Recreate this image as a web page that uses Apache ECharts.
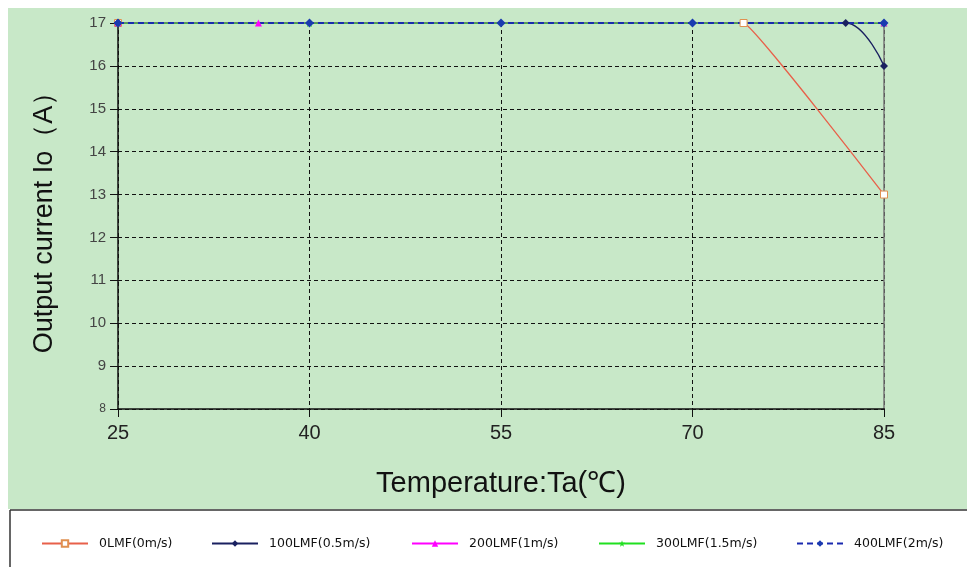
<!DOCTYPE html>
<html><head><meta charset="utf-8">
<script src="https://cdn.jsdelivr.net/npm/echarts@6/dist/echarts.min.js"></script>
<style>html,body{margin:0;padding:0;background:#fff}#c{width:967px;height:567px}</style>
</head><body><div id="c"></div>
<script>
const seriesNames = ['0LMF(0m/s)', '100LMF(0.5m/s)', '200LMF(1m/s)', '300LMF(1.5m/s)', '400LMF(2m/s)'];
const xTicks = [25, 40, 55, 70, 85];
const yTicks = [8, 9, 10, 11, 12, 13, 14, 15, 16, 17];
const lmf0 = [[25, 17], [74, 17], [85, 13]];
const lmf100 = [[25, 17], [82, 17], [85, 16]];
const lmf200 = [[25, 17], [36, 17], [85, 17]];
const lmf300 = [[25, 17], [40, 17], [85, 17]];
const lmf400 = [[25, 17], [40, 17], [55, 17], [70, 17], [85, 17]];

const starPath = 'path://M0,-10 L2.4,-3.2 9.5,-3.1 3.8,1.2 5.9,8.1 0,4 -5.9,8.1 -3.8,1.2 -9.5,-3.1 -2.4,-3.2 Z';
const chart = echarts.init(document.getElementById('c'));
const legendLeft = [36, 206, 406, 593, 791];
const legends = seriesNames.map((n, i) => ({
  data: [n], left: legendLeft[i], top: 532, itemWidth: 46, itemHeight: 8,
  textStyle: {fontFamily: 'DejaVu Sans', fontSize: 12.5, color: '#111', padding: [0, 0, 0, 6]}, selectedMode: false
}));
chart.setOption({
  animation: false,
  backgroundColor: '#fff',
  graphic: [
    {type: 'rect', left: 8, top: 8, shape: {width: 959, height: 501}, style: {fill: '#c8e8c8'}, z: -10},
    {type: 'line', shape: {x1: 10, y1: 510, x2: 967, y2: 510}, style: {stroke: '#333', lineWidth: 1.5}, z: -5},
    {type: 'line', shape: {x1: 10, y1: 510, x2: 10, y2: 567}, style: {stroke: '#333', lineWidth: 1.5}, z: -5}
  ],
  legend: legends,
  grid: {left: 118, right: 83, top: 23, bottom: 158},
  xAxis: {
    type: 'value', min: 25, max: 85, interval: 15,
    axisLine: {show: true, onZero: false, lineStyle: {color: '#111', width: 1.5}},
    axisTick: {show: true, length: 8, lineStyle: {color: '#111'}},
    axisLabel: {fontFamily: 'Liberation Sans, Arial', fontSize: 20, color: '#222', margin: 14},
    splitLine: {show: true, lineStyle: {color: '#111', type: [4, 3], width: 1}},
    name: 'Temperature:Ta(℃)', nameLocation: 'middle', nameGap: 60,
    nameTextStyle: {fontFamily: 'Liberation Sans, Arial', fontSize: 29, color: '#111'}
  },
  yAxis: [{
    type: 'value', min: 8, max: 17, interval: 1,
    axisLine: {show: true, onZero: false, lineStyle: {color: '#111', width: 1.5}},
    axisTick: {show: true, length: 8, lineStyle: {color: '#111'}},
    axisLabel: {fontFamily: 'Liberation Sans, Arial', fontSize: 15, color: '#444', margin: 12,
      formatter: v => v === 8 ? '{s|8}' : String(v), rich: {s: {fontSize: 12, color: '#444'}}},
    splitLine: {show: true, lineStyle: {color: '#111', type: [4, 3], width: 1}},
    name: 'Output current Io（A）', nameLocation: 'middle', nameGap: 60,
    nameTextStyle: {fontFamily: 'Liberation Sans, Arial', fontSize: 27, color: '#111'}
  }, {
    type: 'value', min: 8, max: 17, interval: 1, position: 'right',
    axisLine: {show: true, onZero: false, lineStyle: {color: '#777', width: 1.5}},
    axisTick: {show: false}, axisLabel: {show: false}, splitLine: {show: false}
  }],
  series: [
    {name: seriesNames[0], type: 'line', data: lmf0, smooth: 0.06, smoothMonotone: 'x',
      symbol: 'rect', symbolSize: 7, lineStyle: {color: '#e8604a', width: 1.3},
      itemStyle: {color: '#fff', borderColor: '#e09050', borderWidth: 1}, color: '#e8604a'},
    {name: seriesNames[1], type: 'line', data: lmf100, smooth: 0.5, smoothMonotone: 'x',
      symbol: 'diamond', symbolSize: 8, lineStyle: {color: '#1a2060', width: 1.3},
      itemStyle: {color: '#1a2060'}},
    {name: seriesNames[2], type: 'line', data: lmf200,
      symbol: 'triangle', symbolSize: 7, lineStyle: {color: '#ff00ff', width: 1.3},
      itemStyle: {color: '#ff00ff'}},
    {name: seriesNames[3], type: 'line', data: lmf300,
      symbol: starPath, symbolSize: 8, lineStyle: {color: '#20e020', width: 1.3},
      itemStyle: {color: '#20e020'}},
    {name: seriesNames[4], type: 'line', data: lmf400,
      symbol: 'diamond', symbolSize: 9, lineStyle: {color: '#1a2ab0', width: 2, type: [6, 4]},
      itemStyle: {color: '#1a3ab0'}}
  ]
});
</script></body></html>
